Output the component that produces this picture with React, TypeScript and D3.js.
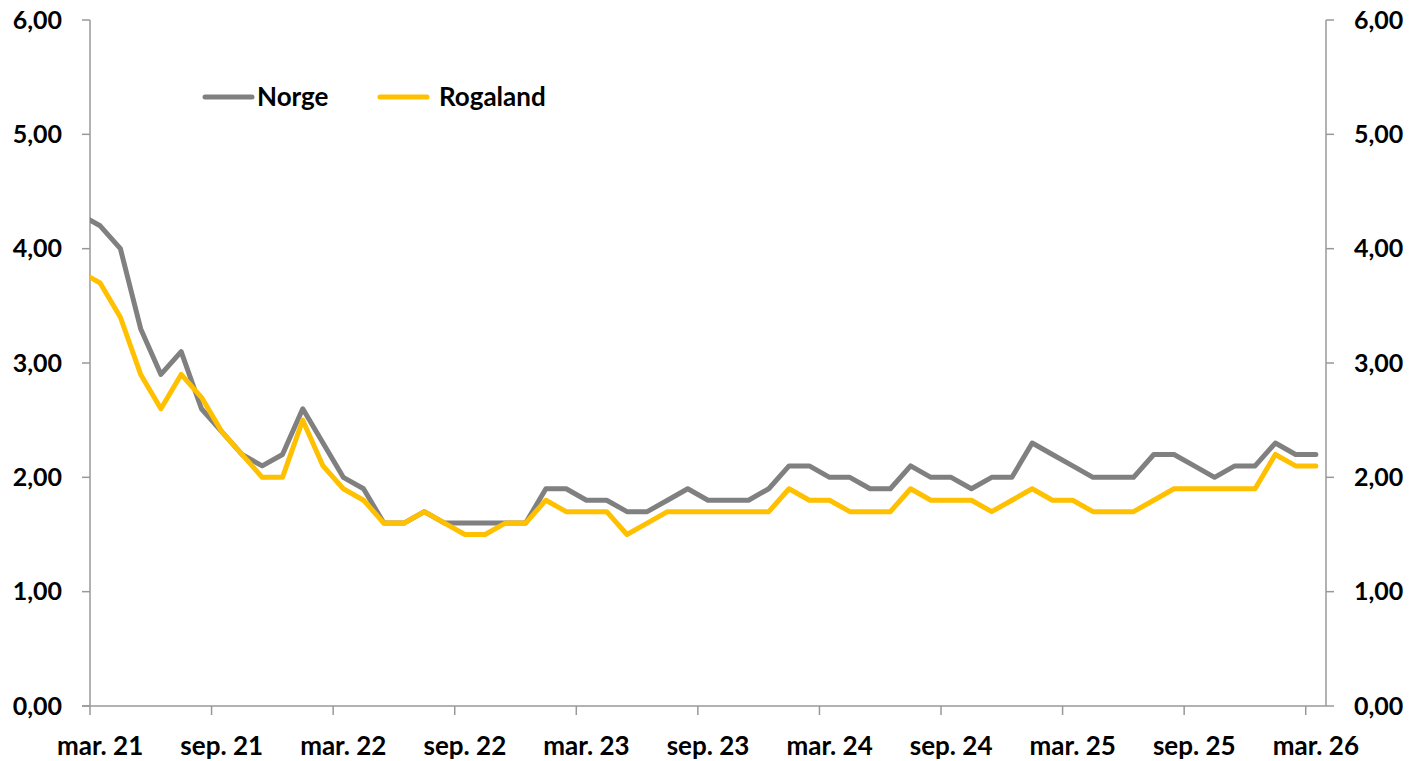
import * as d3 from "d3";

// Monthly values, feb. 21 – mar. 26 (first point sits left of the axis and is clipped)
const months: string[] = [
  "feb. 21", "mar. 21", "apr. 21", "mai 21", "jun. 21", "jul. 21", "aug. 21", "sep. 21", "okt. 21", "nov. 21", "des. 21",
  "jan. 22", "feb. 22", "mar. 22", "apr. 22", "mai 22", "jun. 22", "jul. 22", "aug. 22", "sep. 22", "okt. 22", "nov. 22", "des. 22",
  "jan. 23", "feb. 23", "mar. 23", "apr. 23", "mai 23", "jun. 23", "jul. 23", "aug. 23", "sep. 23", "okt. 23", "nov. 23", "des. 23",
  "jan. 24", "feb. 24", "mar. 24", "apr. 24", "mai 24", "jun. 24", "jul. 24", "aug. 24", "sep. 24", "okt. 24", "nov. 24", "des. 24",
  "jan. 25", "feb. 25", "mar. 25", "apr. 25", "mai 25", "jun. 25", "jul. 25", "aug. 25", "sep. 25", "okt. 25", "nov. 25", "des. 25",
  "jan. 26", "feb. 26", "mar. 26",
];

const norge: number[] = [
  4.3, 4.2, 4.0, 3.3, 2.9, 3.1, 2.6, 2.4, 2.2, 2.1, 2.2,
  2.6, 2.3, 2.0, 1.9, 1.6, 1.6, 1.7, 1.6, 1.6, 1.6, 1.6, 1.6,
  1.9, 1.9, 1.8, 1.8, 1.7, 1.7, 1.8, 1.9, 1.8, 1.8, 1.8, 1.9,
  2.1, 2.1, 2.0, 2.0, 1.9, 1.9, 2.1, 2.0, 2.0, 1.9, 2.0, 2.0,
  2.3, 2.2, 2.1, 2.0, 2.0, 2.0, 2.2, 2.2, 2.1, 2.0, 2.1, 2.1,
  2.3, 2.2, 2.2,
];

const rogaland: number[] = [
  3.8, 3.7, 3.4, 2.9, 2.6, 2.9, 2.7, 2.4, 2.2, 2.0, 2.0,
  2.5, 2.1, 1.9, 1.8, 1.6, 1.6, 1.7, 1.6, 1.5, 1.5, 1.6, 1.6,
  1.8, 1.7, 1.7, 1.7, 1.5, 1.6, 1.7, 1.7, 1.7, 1.7, 1.7, 1.7,
  1.9, 1.8, 1.8, 1.7, 1.7, 1.7, 1.9, 1.8, 1.8, 1.8, 1.7, 1.8,
  1.9, 1.8, 1.8, 1.7, 1.7, 1.7, 1.8, 1.9, 1.9, 1.9, 1.9, 1.9,
  2.2, 2.1, 2.1,
];

const xTickLabels: string[] = [
  "mar. 21", "sep. 21", "mar. 22", "sep. 22", "mar. 23", "sep. 23",
  "mar. 24", "sep. 24", "mar. 25", "sep. 25", "mar. 26",
];

const yTicks: number[] = [0, 1, 2, 3, 4, 5, 6];

const width = 1411;
const height = 761;
const margin = { top: 20, right: 85, bottom: 55, left: 90 };
const font = "Lato, 'Open Sans', sans-serif";
const axisColor = "#989898";

export default function App() {
  // month index 0 = start of mar. 21, 61 = start of apr. 26
  const x = d3.scaleLinear().domain([0, 61]).range([margin.left, width - margin.right]);
  const y = d3.scaleLinear().domain([0, 6]).range([height - margin.bottom, margin.top]);

  // points sit mid-month; feb. 21 has index -1
  const px = (i: number) => x(i - 1 + 0.5);

  const line = d3
    .line<number>()
    .x((_, i) => px(i))
    .y((d) => y(d));

  const series = [
    { name: "Norge", values: norge, color: "#808080" },
    { name: "Rogaland", values: rogaland, color: "#FFC000" },
  ];

  const x0 = margin.left;
  const x1 = width - margin.right;
  const yBottom = y(0);
  const yTop = y(6);
  const fmt = (v: number) => v.toFixed(2).replace(".", ",");

  return (
    <svg
      width={width}
      height={height}
      style={{ position: "absolute", left: 0, top: 0, background: "#fff" }}
      fontFamily={font}
      fontWeight="bold"
    >
      <defs>
        <clipPath id="plot">
          <rect x={x0} y={0} width={x1 - x0} height={height} />
        </clipPath>
      </defs>

      {/* left axis */}
      <line x1={x0} x2={x0} y1={yTop} y2={yBottom} stroke={axisColor} strokeWidth={1.5} />
      {yTicks.map((t) => (
        <g key={`l${t}`}>
          <line x1={x0 - 8} x2={x0} y1={y(t)} y2={y(t)} stroke={axisColor} strokeWidth={1.5} />
          <text x={62} y={y(t)} dy="0.35em" textAnchor="end" fontSize={25} fill="#000">
            {fmt(t)}
          </text>
        </g>
      ))}

      {/* right axis */}
      <line x1={x1} x2={x1} y1={yTop} y2={yBottom} stroke={axisColor} strokeWidth={1.5} />
      {yTicks.map((t) => (
        <g key={`r${t}`}>
          <line x1={x1} x2={x1 + 8} y1={y(t)} y2={y(t)} stroke={axisColor} strokeWidth={1.5} />
          <text x={1354} y={y(t)} dy="0.35em" textAnchor="start" fontSize={25} fill="#000">
            {fmt(t)}
          </text>
        </g>
      ))}

      {/* bottom axis */}
      <line x1={x0 - 8} x2={x1} y1={yBottom} y2={yBottom} stroke={axisColor} strokeWidth={1.5} />
      {xTickLabels.map((lab, k) => (
        <g key={lab}>
          <line x1={x(k * 6)} x2={x(k * 6)} y1={yBottom} y2={yBottom + 9} stroke={axisColor} strokeWidth={1.5} />
          <text x={x(k * 6 + 0.5)} y={755} textAnchor="middle" fontSize={26} fill="#000">
            {lab}
          </text>
        </g>
      ))}

      {/* lines */}
      <g clipPath="url(#plot)">
        {series.map((s) => (
          <path
            key={s.name}
            d={line(s.values) ?? ""}
            fill="none"
            stroke={s.color}
            strokeWidth={5}
            strokeLinejoin="round"
            strokeLinecap="round"
          />
        ))}
      </g>

      {/* legend */}
      <line x1={205} x2={252} y1={97} y2={97} stroke="#808080" strokeWidth={5} strokeLinecap="round" />
      <text x={257} y={97} dy="0.35em" fontSize={26} fill="#000">
        Norge
      </text>
      <line x1={380} x2={427} y1={97} y2={97} stroke="#FFC000" strokeWidth={5} strokeLinecap="round" />
      <text x={439} y={97} dy="0.35em" fontSize={26} fill="#000">
        Rogaland
      </text>
    </svg>
  );
}
